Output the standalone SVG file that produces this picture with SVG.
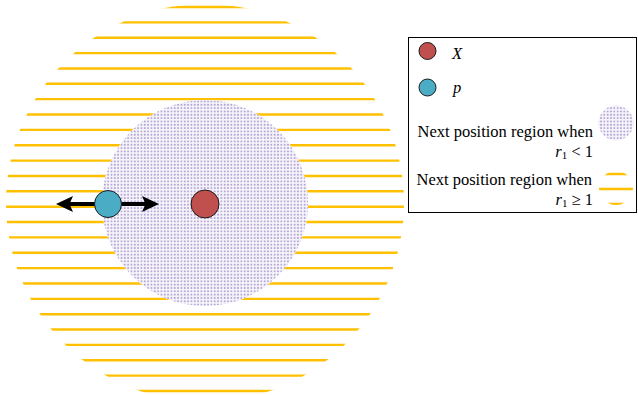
<svg xmlns="http://www.w3.org/2000/svg" width="638" height="395" viewBox="0 0 638 395">
<style>
.stripe{stroke:#FFC000;stroke-width:2.4;fill:none}
.dots{fill:url(#dotpat)}
.lbl{font-size:16.5px;fill:#000}
.it{font-style:italic}
.ptX{fill:#C0504D;stroke:#1a1a1a;stroke-width:1}
.ptP{fill:#4BACC6;stroke:#1a1a1a;stroke-width:1}
.arrow{stroke:#000;stroke-width:4;fill:none;marker-start:url(#ah);marker-end:url(#ah)}
</style>
<defs>
<pattern id="dotpat" width="3.33" height="3.33" patternUnits="userSpaceOnUse">
<rect width="3.33" height="3.33" fill="#f7f5fb"/>
<rect x="0.7" y="0.7" width="1.7" height="1.7" fill="#ad9fd2"/>
</pattern>
<clipPath id="bigClip"><circle cx="205" cy="203" r="199"/></clipPath>
<clipPath id="legClip"><circle cx="616" cy="188" r="17"/></clipPath>
<marker id="ah" markerUnits="userSpaceOnUse" markerWidth="18" markerHeight="18" viewBox="0 0 18 18" refX="7" refY="9" orient="auto-start-reverse">
<path d="M0,1 L17,9 L0,17 L3.5,9 Z" fill="#000"/>
</marker>
</defs>
<rect width="638" height="395" fill="#fff"/>
<g id="region-r1-ge-1" clip-path="url(#bigClip)">
<path class="stripe" d="M0,7H420M0,22.36H420M0,37.72H420M0,53.08H420M0,68.44H420M0,83.8H420M0,99.16H420M0,114.52H420M0,129.88H420M0,145.24H420M0,160.6H420M0,175.96H420M0,191.32H420M0,206.68H420M0,222.04H420M0,237.4H420M0,252.76H420M0,268.12H420M0,283.48H420M0,298.84H420M0,314.2H420M0,329.56H420M0,344.92H420M0,360.28H420M0,375.64H420M0,391H420"/>
</g>
<g id="region-r1-lt-1">
<circle cx="205" cy="203" r="103" fill="#fff"/>
<circle class="dots" cx="205" cy="203" r="103"/>
</g>
<g id="connectors">
<line class="arrow" x1="66" y1="204" x2="149" y2="204"/>
</g>
<g id="node-p">
<circle class="ptP" cx="108" cy="204" r="13.5"/>
</g>
<g id="node-X">
<circle class="ptX" cx="205" cy="204" r="14"/>
</g>
<g id="legend" font-family="'Liberation Serif', 'Times New Roman', 'DejaVu Serif', serif">
<rect x="408.5" y="37.5" width="228" height="175" fill="#fff" stroke="#000" stroke-width="1"/>
<circle class="ptX" cx="427.5" cy="51" r="8.5"/>
<text class="lbl it" x="452" y="59">X</text>
<circle class="ptP" cx="427.5" cy="87.5" r="8.5"/>
<text class="lbl it" x="453" y="93">p</text>
<text class="lbl" x="593" y="137" text-anchor="end">Next position region when</text>
<text class="lbl" x="593" y="157" text-anchor="end"><tspan class="it">r</tspan><tspan font-size="11" dy="2">1</tspan><tspan dy="-2"> &lt; 1</tspan></text>
<circle class="dots" cx="616" cy="123" r="17.5"/>
<text class="lbl" x="592" y="185" text-anchor="end">Next position region when</text>
<text class="lbl" x="593" y="205" text-anchor="end"><tspan class="it">r</tspan><tspan font-size="11" dy="2">1</tspan><tspan dy="-2"> ≥ 1</tspan></text>
<g clip-path="url(#legClip)">
<path class="stripe" d="M596,174H636M596,189H636M596,204H636"/>
</g>
</g>
</svg>
